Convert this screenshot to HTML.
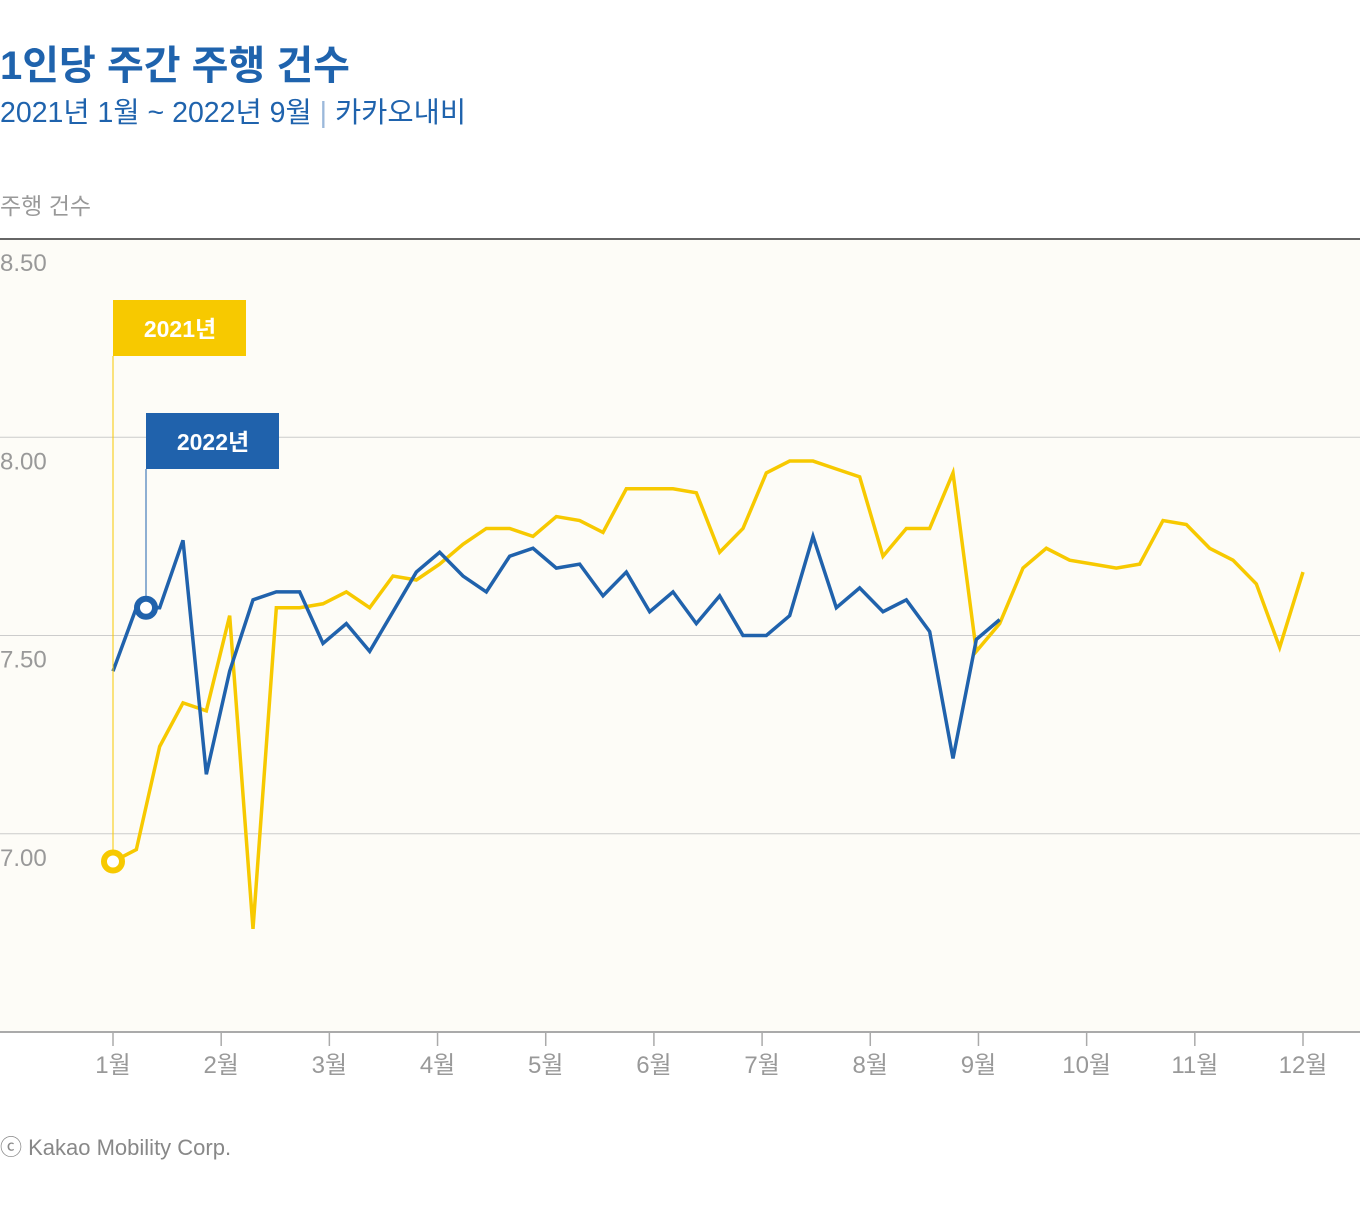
<!DOCTYPE html>
<html><head><meta charset="utf-8"><style>
body{margin:0;background:#fff;width:1360px;height:1200px;overflow:hidden;font-family:"Liberation Sans","Noto Sans CJK KR",sans-serif}
svg text{font-family:"Liberation Sans","Noto Sans CJK KR",sans-serif}
</style></head><body>
<svg id="chart" width="1360" height="1200" xmlns="http://www.w3.org/2000/svg">
<text x="0" y="79" font-size="40" font-weight="bold" fill="#1f63ad">1인당 주간 주행 건수</text>
<text x="0" y="122" font-size="28.5" fill="#1f63ad">2021년 1월 ~ 2022년 9월 <tspan fill="#9bb8da">|</tspan> 카카오내비</text>
<text x="0" y="214" font-size="23" fill="#999">주행 건수</text>
<rect x="0" y="239" width="1360" height="793" fill="#fdfcf7"/>
<g id="grid"></g>
<g id="xaxis"></g>
<g id="series"></g>
<g id="annot"></g>
<text x="0" y="1155" font-size="22" fill="#888">ⓒ Kakao Mobility Corp.</text>
</svg>
<script>
const months=["1월","2월","3월","4월","5월","6월","7월","8월","9월","10월","11월","12월"];
const yTicks=[7.0,7.5,8.0,8.5];
const y2021=[6.93,6.96,7.22,7.33,7.31,7.55,6.76,7.57,7.57,7.58,7.61,7.57,7.65,7.64,7.68,7.73,7.77,7.77,7.75,7.80,7.79,7.76,7.87,7.87,7.87,7.86,7.71,7.77,7.91,7.94,7.94,7.92,7.90,7.70,7.77,7.77,7.91,7.46,7.53,7.67,7.72,7.69,7.68,7.67,7.68,7.79,7.78,7.72,7.69,7.63,7.47,7.66];
const y2022=[7.41,7.57,7.57,7.74,7.15,7.41,7.59,7.61,7.61,7.48,7.53,7.46,7.56,7.66,7.71,7.65,7.61,7.70,7.72,7.67,7.68,7.60,7.66,7.56,7.61,7.53,7.60,7.50,7.50,7.55,7.75,7.57,7.62,7.56,7.59,7.51,7.19,7.49,7.54];
const NS="http://www.w3.org/2000/svg";
const yS=v=>239+(8.5-v)*396.5;
const xW=i=>113+i*(1190/51);
const xM=m=>113+m*(1190/11);
function mk(t,p,a){const e=document.createElementNS(NS,t);for(const k in a)e.setAttribute(k,a[k]);p.appendChild(e);return e;}
const grid=document.getElementById('grid');
yTicks.forEach(v=>{
 const l=mk('line',grid,{x1:0,x2:1360,y1:yS(v),y2:yS(v),stroke:v==8.5?'#666':'#ccc','stroke-width':v==8.5?2:1});
 
 
 const t=mk('text',grid,{x:0,y:yS(v)+32,'font-size':24,fill:'#999'});t.textContent=v.toFixed(2);
 
 
});
const xa=document.getElementById('xaxis');
const base=mk('line',xa,{x1:0,x2:1360,y1:1032,y2:1032,stroke:'#aaa','stroke-width':2});


months.forEach((m,i)=>{
 const tk=mk('line',xa,{x1:xM(i),x2:xM(i),y1:1032,y2:1046,stroke:'#aaa','stroke-width':1.5});
 
 
 const t=mk('text',xa,{x:xM(i),y:1073,'font-size':24,fill:'#999','text-anchor':'middle'});t.textContent=m;
 
 
});
const sg=document.getElementById('series');
function line(data,col,name){
 const p=mk('polyline',sg,{points:data.map((v,i)=>xW(i)+','+yS(v)).join(' '),fill:'none',stroke:col,'stroke-width':3.5,'stroke-linejoin':'miter'});
 
 
}
line(y2021,'#f7c900','line-2021');
line(y2022,'#2062ac','line-2022');
const an=document.getElementById('annot');
function label(x,by,px,py,col,txt,name){
 const l=mk('line',an,{x1:x,x2:x,y1:by+56,y2:py,stroke:col,'stroke-width':1});
 
 
 const r=mk('rect',an,{x:x,y:by,width:133,height:56,fill:col});
 
 
 const t=mk('text',an,{x:x+67,y:by+37,'font-size':23,'font-weight':'bold',fill:'#fff','text-anchor':'middle'});t.textContent=txt;
 
 
 const c=mk('circle',an,{cx:px,cy:py,r:9,fill:'#fff',stroke:col,'stroke-width':6});
 
 
}
label(113,300,xW(0),yS(y2021[0]),'#f7c900','2021년','label-2021');
label(146,413,146,yS(y2022[1]),'#2062ac','2022년','label-2022');
</script>
</body></html>
